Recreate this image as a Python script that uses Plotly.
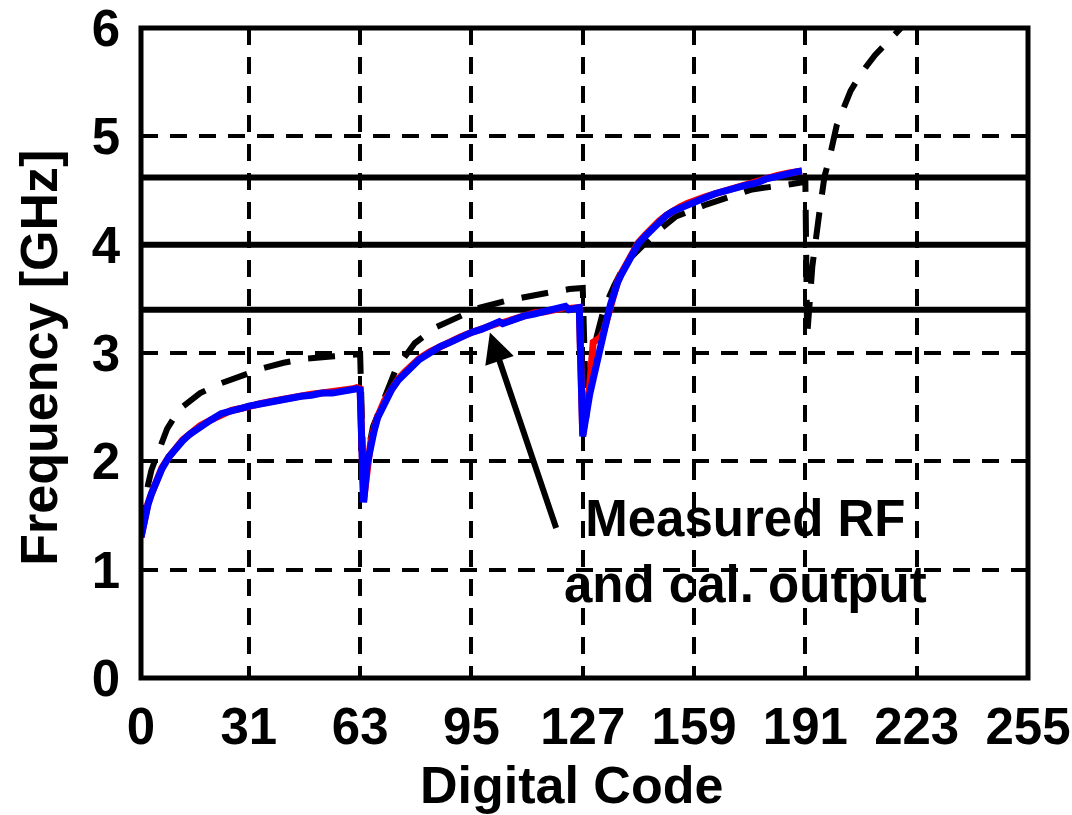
import plotly.graph_objects as go

# ---- data -------------------------------------------------------------
# Digital code axis ticks
code_ticks = [0, 31, 63, 95, 127, 159, 191, 223, 255]
code_tick_text = ["0", "31", "63", "95", "127", "159", "191", "223", "255"]
freq_ticks = [0, 1, 2, 3, 4, 5, 6]

# Measured codes (shared by the RF and calibrated-output traces)
meas_code = [0, 1, 2, 3, 4, 5, 6, 8, 10, 12, 14, 17, 20, 23, 26, 29, 31, 34,
             37, 40, 43, 46, 49, 52, 55, 58, 61, 62, 63,
             64, 65, 66, 67, 68, 70, 72, 74, 76, 78, 80, 83, 86, 89, 92, 95,
             98, 101, 103, 104, 107, 110, 113, 116, 119, 121, 122, 123, 125, 126,
             127, 128, 129, 130, 131, 132, 133, 134, 135, 136, 137, 138, 139,
             140, 141, 143, 145, 147, 149, 151, 153, 155, 157, 159, 162, 165,
             168, 171, 174, 177, 180, 183, 186, 188, 190]

# Calibrated output frequency [GHz]
cal_freq = [1.30, 1.47, 1.60, 1.70, 1.78, 1.86, 1.93, 2.04, 2.12, 2.19, 2.25,
            2.32, 2.38, 2.44, 2.46, 2.49, 2.51, 2.53, 2.55, 2.56, 2.58, 2.60,
            2.61, 2.63, 2.63, 2.65, 2.67, 2.67, 2.66,
            1.62, 1.97, 2.15, 2.28, 2.40, 2.55, 2.66, 2.75, 2.82, 2.88, 2.94,
            3.00, 3.06, 3.10, 3.15, 3.19, 3.22, 3.26, 3.29, 3.27, 3.31, 3.34,
            3.36, 3.38, 3.40, 3.41, 3.43, 3.40, 3.42, 3.42,
            2.23, 2.45, 2.62, 2.76, 2.92, 3.05, 3.18, 3.32, 3.45, 3.56, 3.65,
            3.72, 3.78, 3.86, 3.92, 4.01, 4.08, 4.15, 4.21, 4.27, 4.31, 4.34,
            4.37, 4.40, 4.43, 4.47, 4.50, 4.53, 4.55, 4.57, 4.61, 4.63, 4.66,
            4.67, 4.68]

# Measured RF frequency [GHz]
rf_freq = [1.30, 1.47, 1.61, 1.70, 1.79, 1.86, 1.94, 2.04, 2.12, 2.20, 2.25,
           2.33, 2.38, 2.43, 2.47, 2.49, 2.51, 2.53, 2.55, 2.57, 2.58, 2.60,
           2.62, 2.63, 2.64, 2.65, 2.67, 2.68, 2.67,
           1.64, 1.99, 2.17, 2.30, 2.41, 2.56, 2.67, 2.76, 2.83, 2.89, 2.95,
           3.01, 3.06, 3.11, 3.15, 3.19, 3.23, 3.26, 3.28, 3.28, 3.31, 3.34,
           3.37, 3.38, 3.40, 3.42, 3.42, 3.41, 3.42, 3.42,
           2.25, 2.47, 2.70, 3.10, 3.12, 3.14, 3.20, 3.33, 3.46, 3.57, 3.66,
           3.73, 3.79, 3.87, 3.93, 4.02, 4.09, 4.16, 4.22, 4.27, 4.32, 4.35,
           4.38, 4.41, 4.44, 4.47, 4.50, 4.53, 4.56, 4.58, 4.61, 4.64, 4.66,
           4.67, 4.68]

# Model (expected) tuning curve
model_code = [0, 1, 2, 3, 5, 7.5, 11, 17, 23, 29.5, 35, 41, 48, 55.5, 63,
              64, 65, 66.7, 70, 73.4, 78.7, 84.9, 92.5, 95.3, 106, 112, 119.4,
              123.2, 127,
              128, 129, 131, 133, 136, 139.5, 148, 153.8, 162.5, 175.7, 187.2,
              191,
              191.5, 193, 195, 196.5, 198, 200, 204, 207, 211, 215.5, 218.5]
model_freq = [1.35, 1.62, 1.78, 1.92, 2.10, 2.30, 2.48, 2.63, 2.72, 2.80,
              2.86, 2.91, 2.95, 2.97, 2.99,
              1.80, 2.05, 2.32, 2.60, 2.86, 3.09, 3.24, 3.35, 3.40, 3.49,
              3.53, 3.57, 3.59, 3.60,
              2.40, 2.80, 3.15, 3.40, 3.62, 3.84, 4.11, 4.26, 4.37, 4.51,
              4.56, 4.58,
              3.15, 3.80, 4.29, 4.63, 4.81, 5.10, 5.42, 5.58, 5.75, 5.91, 6.00]

# Target band frequencies [GHz]
band_freq = [3.4, 4.0, 4.62]

# Annotation: arrow tip / tail and label position (data coordinates)
arrow_tip = (100.3, 3.19)
arrow_tail = (119.5, 1.37)
label_pos = (173.9, 1.165)
label_text = "Measured RF<br>and cal. output"

x_title = "Digital Code"
y_title = "Frequency [GHz]"

# ---- figure -----------------------------------------------------------
FONT = "Liberation Sans, Arial, Helvetica, sans-serif"

fig = go.Figure()

fig.add_trace(go.Scatter(x=model_code, y=model_freq, mode="lines",
                         line=dict(color="black", width=6, dash="27px,18px"),
                         hoverinfo="skip"))
fig.add_trace(go.Scatter(x=meas_code, y=rf_freq, mode="lines",
                         line=dict(color="#ff0000", width=7),
                         hoverinfo="skip"))
fig.add_trace(go.Scatter(x=meas_code, y=cal_freq, mode="lines",
                         line=dict(color="#0000ff", width=7),
                         hoverinfo="skip"))

# band reference lines
for f in band_freq:
    fig.add_shape(type="line", xref="paper", x0=0, x1=1, yref="y", y0=f, y1=f,
                  line=dict(color="black", width=6), layer="below")

# plot frame
fig.add_shape(type="rect", xref="paper", yref="paper", x0=0, x1=1, y0=0, y1=1,
              line=dict(color="black", width=5), layer="above")

fig.add_annotation(x=arrow_tip[0], y=arrow_tip[1], ax=arrow_tail[0],
                   ay=arrow_tail[1], axref="x", ayref="y", xref="x", yref="y",
                   text="", showarrow=True, arrowhead=2, arrowsize=1,
                   arrowwidth=6, arrowcolor="black", standoff=0)
fig.add_annotation(x=label_pos[0], y=label_pos[1], xref="x", yref="y",
                   text=label_text, showarrow=False, align="center",
                   font=dict(family=FONT, size=51, color="black", weight="bold"))

# axis titles
title_font = dict(family=FONT, size=52, color="black", weight="bold")
fig.add_annotation(x=0.485, y=-0.165, xref="paper", yref="paper",
                   xanchor="center", yanchor="middle", text=x_title,
                   showarrow=False, font=title_font)
fig.add_annotation(x=-0.116, y=0.493, xref="paper", yref="paper",
                   xanchor="center", yanchor="middle", text=y_title,
                   textangle=-90, showarrow=False, font=title_font)

axis_common = dict(
    showgrid=True, gridcolor="black", gridwidth=4, griddash="17px,12px",
    showline=False, zeroline=False, ticks="", automargin=False,
    ticklabeloverflow="allow",
    tickfont=dict(family=FONT, size=51, color="black", weight="bold"),
)

fig.update_xaxes(range=[0, 255], tickmode="array", tickvals=code_ticks,
                 ticktext=code_tick_text, ticklabelstandoff=14, **axis_common)
fig.update_yaxes(range=[0, 6], tickmode="array", tickvals=freq_ticks,
                 ticklabelstandoff=20, **axis_common)

fig.update_layout(
    width=1072, height=815,
    margin=dict(l=141, r=44, t=28, b=137),
    paper_bgcolor="white", plot_bgcolor="white",
    showlegend=False,
)

fig.write_html("out.html")
